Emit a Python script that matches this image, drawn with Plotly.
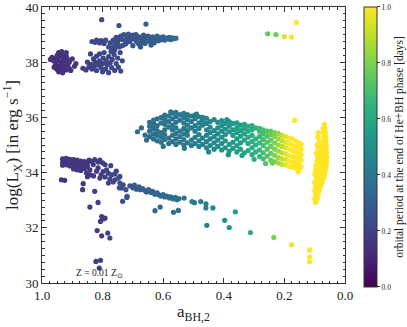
import plotly.graph_objects as go

# ---------------- data ----------------
# top-left blob near a=0.93, log Lx ~ 38  : (a, logLx, period)
cluster_a = [(0.967,38.18,0.14),(0.962,38.05,0.14),(0.958,38.12,0.14),(0.95,38.25,0.14),(0.945,38.35,0.15),
             (0.935,38.38,0.15),(0.928,38.3,0.15),(0.94,38.2,0.14),(0.93,38.15,0.15),(0.92,38.22,0.15),
             (0.948,38.05,0.14),(0.938,38.0,0.14),(0.925,38.05,0.15),(0.915,38.1,0.15),(0.955,37.9,0.13),
             (0.945,37.85,0.13),(0.935,37.9,0.14),(0.925,37.88,0.14),(0.915,37.9,0.15),(0.952,37.75,0.13),
             (0.94,37.72,0.13),(0.93,37.75,0.14),(0.92,37.72,0.14),(0.945,37.65,0.13),(0.932,37.62,0.13),
             (0.91,37.78,0.15),(0.905,37.7,0.15),(0.9,38.12,0.16),(0.893,37.85,0.16),(0.888,37.95,0.16),
             (0.96,37.82,0.13),(0.92,38.35,0.15),(0.942,38.28,0.14),(0.952,38.15,0.14),(0.91,38.0,0.15),
             (0.972,38.1,0.14)]

# lower blob of the upper group
cluster_b = [(0.865,37.78,0.19),(0.855,37.72,0.19),(0.845,37.82,0.2),(0.84,37.92,0.2),(0.835,37.75,0.2),
             (0.828,37.85,0.2),(0.825,38.0,0.2),(0.82,37.7,0.2),(0.815,37.9,0.21),(0.81,38.05,0.21),
             (0.805,37.8,0.21),(0.8,37.95,0.21),(0.798,38.15,0.21),(0.79,37.75,0.21),(0.788,38.05,0.22),
             (0.785,37.9,0.22),(0.78,38.2,0.22),(0.775,37.98,0.22),(0.77,37.8,0.22),(0.768,38.1,0.22),
             (0.762,38.28,0.22),(0.76,37.7,0.22),(0.755,37.95,0.23),(0.75,38.15,0.23),(0.748,37.82,0.23),
             (0.742,38.35,0.23),(0.74,37.68,0.23),(0.735,38.05,0.23),(0.83,38.12,0.2),(0.82,38.22,0.21),
             (0.85,38.0,0.2),(0.76,38.45,0.23),(0.77,38.52,0.23),(0.755,38.6,0.23),(0.81,38.3,0.21),
             (0.795,38.35,0.21),(0.8,37.65,0.21),(0.78,37.62,0.22),(0.84,38.3,0.2),(0.772,38.38,0.22)]

# upper arc of the upper group
cluster_b_arc = [(0.835,38.75,0.21),(0.825,38.72,0.21),(0.82,38.8,0.22),(0.81,38.7,0.22),(0.805,38.78,0.22),
                 (0.795,38.68,0.22),(0.79,38.8,0.23),(0.78,38.55,0.23),(0.775,38.7,0.23),(0.765,38.8,0.24),
                 (0.76,38.62,0.24),(0.755,38.9,0.24),(0.75,38.75,0.24),(0.745,38.55,0.24),(0.74,38.95,0.25),
                 (0.735,38.82,0.25),(0.73,39.0,0.25),(0.725,38.65,0.25),(0.72,38.88,0.25),(0.715,39.02,0.26),
                 (0.71,38.75,0.26),(0.705,38.95,0.26),(0.7,38.6,0.26),(0.695,38.85,0.27),(0.69,39.0,0.27),
                 (0.685,38.72,0.27),(0.68,38.92,0.27),(0.675,38.55,0.28),(0.67,38.82,0.28),(0.665,38.98,0.28),
                 (0.66,38.68,0.28),(0.655,38.88,0.29),(0.65,38.95,0.29),(0.645,38.75,0.29),(0.64,38.85,0.29),
                 (0.635,38.92,0.3),(0.63,38.7,0.3),(0.625,38.85,0.3),(0.62,38.95,0.3),(0.615,38.78,0.31),
                 (0.61,38.88,0.31),(0.605,38.82,0.31),(0.6,38.92,0.32),(0.595,38.8,0.32),(0.59,38.87,0.32),
                 (0.585,38.84,0.33),(0.58,38.9,0.33),(0.575,38.82,0.33),(0.57,38.88,0.34),(0.565,38.85,0.34),
                 (0.558,38.87,0.35),(0.745,38.88,0.24),(0.725,38.78,0.25),(0.705,38.85,0.26),(0.685,38.85,0.27),
                 (0.665,38.78,0.28),(0.645,38.9,0.29),(0.625,38.78,0.3),(0.605,38.9,0.31),(0.72,38.72,0.25),
                 (0.7,38.98,0.26),(0.66,38.9,0.28),(0.64,38.62,0.29),(0.68,38.65,0.27),(0.735,38.6,0.25),
                 (0.76,38.72,0.24),(0.71,38.88,0.26),(0.69,38.78,0.27),(0.65,38.82,0.29),(0.67,38.7,0.28),
                 (0.75,38.65,0.24),(0.803,39.54,0.21),(0.746,39.33,0.24),(0.657,39.38,0.29)]

# few systems at the top right
cluster_g = [(0.255,39.03,0.75),(0.228,39.0,0.78),(0.2,38.93,0.95),(0.177,38.91,0.98),(0.16,39.44,1.0)]

# middle band: column positions, colour of each column, and the logLx values in each column
band_col_x = [0.645,0.632,0.62,0.607,0.595,0.582,0.57,0.558,0.545,0.532,0.52,0.507,0.495,0.482,
              0.47,0.457,0.445,0.432,0.42,0.407,0.395,0.382,0.37,0.357,0.345,0.332,0.32,0.307,
              0.295,0.282,0.27,0.257,0.245,0.232,0.22,0.208,0.196,0.185,0.174,0.163,0.152,0.145]
band_col_c = [0.36,0.365,0.37,0.375,0.38,0.385,0.39,0.395,0.40,0.405,0.41,0.415,0.42,0.43,
              0.44,0.45,0.46,0.47,0.48,0.50,0.51,0.52,0.53,0.55,0.56,0.58,0.60,0.62,
              0.64,0.67,0.70,0.72,0.76,0.80,0.85,0.90,0.95,1.0,1.0,1.0,1.0,1.0]
band_col_y = [
    [35.3,35.5,35.68,35.82],
    [35.22,35.4,35.6,35.78,35.9],
    [35.15,35.35,35.52,35.7,35.95],
    [35.1,35.28,35.45,35.8,36.0],
    [35.2,35.38,35.55,35.75,35.92,36.08],
    [35.05,35.25,35.65,35.85,36.05],
    [35.12,35.35,35.55,35.72,35.95,36.15],
    [35.02,35.22,35.42,35.62,35.82,36.02,36.18],
    [35.1,35.3,35.5,35.9,36.1],
    [35.0,35.2,35.4,35.6,35.8,36.0,36.15],
    [35.08,35.35,35.52,35.72,35.92,36.1],
    [34.98,35.18,35.62,35.85,36.05],
    [35.05,35.28,35.5,35.7,35.95,36.08],
    [34.95,35.15,35.38,35.6,35.8,36.02],
    [35.02,35.25,35.72,35.9,36.0],
    [34.9,35.12,35.35,35.55,35.78,35.97],
    [34.98,35.22,35.45,35.65,35.85],
    [34.85,35.08,35.3,35.52,35.92],
    [34.95,35.18,35.4,35.62,35.82],
    [34.82,35.05,35.28,35.5,35.7,35.88],
    [34.9,35.15,35.38,35.58,35.78],
    [34.78,35.02,35.48,35.68,35.85],
    [34.88,35.1,35.35,35.55,35.78],
    [34.75,34.98,35.22,35.45,35.62,35.8],
    [34.85,35.08,35.32,35.52,35.72],
    [34.72,35.18,35.4,35.6,35.75],
    [34.8,35.05,35.28,35.5,35.68],
    [34.65,34.9,35.12,35.35,35.55,35.7],
    [34.75,35.0,35.22,35.62],
    [34.58,34.82,35.08,35.3,35.5,35.6],
    [34.5,34.72,34.98,35.2,35.4,35.55],
    [34.6,34.85,35.1,35.32,35.5],
    [34.45,34.7,34.95,35.18,35.38,35.5],
    [34.4,34.62,34.85,35.08,35.3,35.45],
    [34.35,34.55,34.78,35.0,35.22,35.42],
    [34.3,34.5,34.72,34.95,35.15,35.35],
    [34.28,34.48,34.68,34.9,35.1,35.3],
    [34.22,34.42,34.62,34.85,35.05,35.25],
    [34.2,34.38,34.58,34.8,35.0,35.22],
    [34.18,34.36,34.55,34.75,34.95,35.15],
    [34.12,34.3,34.5,34.7,34.9,35.08],
    [34.2,34.45,34.65,34.85,35.02],
]
band_extra = [(0.685,35.48,0.34),(0.672,35.62,0.35),(0.66,35.36,0.35),(0.655,35.18,0.35),(0.6,34.95,0.38),
              (0.53,34.88,0.4),(0.45,34.75,0.45),(0.385,34.65,0.52),(0.3,34.48,0.63),(0.262,34.33,0.72),
              (0.155,34.03,1.0),(0.166,35.9,1.0),(0.575,36.2,0.39),(0.49,36.12,0.42),(0.39,35.92,0.5),
              (0.34,34.62,0.56),(0.24,34.35,0.78)]

# narrow vertical strip at a ~ 0.06-0.10 (all at the top of the colour scale)
strip_row_y = [35.75,35.6,35.45,35.3,35.15,35.0,34.85,34.7,34.55,34.4,34.25,34.1,33.95,33.8,33.65,
               33.5,33.35,33.2,33.05,32.92]
strip_row_x = [[0.068],[0.066,0.072],[0.065,0.071,0.088],[0.064,0.07,0.089],[0.063,0.07,0.085],
               [0.062,0.069,0.078,0.092],[0.061,0.068,0.076,0.088],[0.06,0.067,0.075,0.084,0.095],
               [0.06,0.067,0.074,0.082,0.09],[0.061,0.068,0.076,0.084,0.093],[0.062,0.07,0.078,0.086,0.096],
               [0.064,0.072,0.08,0.088,0.097],[0.067,0.075,0.083,0.092,0.1],[0.07,0.078,0.086,0.095],
               [0.075,0.083,0.092,0.1],[0.08,0.088,0.097],[0.085,0.093,0.1],[0.088,0.097],[0.092,0.1],[0.097]]
strip_c = 1.0

# lower-left dense group
cluster_e_col_x = [0.932,0.92,0.908,0.896,0.884,0.872,0.86,0.85]
cluster_e_col_y = [[34.5,34.38,34.27],[34.52,34.4,34.28],[34.48,34.36,34.24],[34.47,34.35,34.23,34.13],
                   [34.45,34.33,34.21,34.1],[34.42,34.3,34.18,34.08],[34.4,34.28,34.15],[34.35,34.22]]
cluster_e_c = 0.15
cluster_e_ragged = [(0.845,34.45,0.17),(0.836,34.41,0.17),(0.826,34.47,0.18),(0.815,34.38,0.18),(0.809,34.45,0.18),
                    (0.8,34.35,0.19),(0.792,34.29,0.19),(0.773,34.25,0.2),(0.787,34.1,0.2),(0.781,33.98,0.2),
                    (0.77,33.92,0.21),(0.792,33.84,0.2),(0.776,33.77,0.21),(0.765,33.66,0.22),(0.781,33.62,0.21),
                    (0.743,33.62,0.24),(0.732,33.56,0.25),(0.737,33.44,0.25),(0.723,33.38,0.26),(0.719,33.14,0.26),
                    (0.734,32.96,0.25),(0.831,34.29,0.18),(0.815,34.17,0.18),(0.842,34.1,0.17),(0.853,33.99,0.17),
                    (0.798,34.04,0.19),(0.809,33.8,0.19),(0.748,33.8,0.23),(0.743,33.86,0.23),(0.759,33.74,0.22),
                    (0.82,34.05,0.18),(0.84,33.92,0.17),(0.85,33.85,0.17),(0.83,33.88,0.18),(0.805,33.92,0.19),
                    (0.76,33.95,0.22),(0.755,34.05,0.22),(0.745,33.45,0.24),(0.72,33.1,0.26)]
# scattered systems below the lower-left group
cluster_f = [(0.936,33.74,0.15),(0.925,33.72,0.15),(0.864,33.6,0.17),(0.866,33.38,0.17),(0.826,33.32,0.18),
             (0.815,32.92,0.18),(0.842,32.75,0.17),(0.803,32.41,0.19),(0.798,32.32,0.19),(0.792,32.35,0.19),
             (0.807,32.23,0.19),(0.818,31.9,0.18),(0.803,31.71,0.19),(0.783,31.81,0.2),(0.776,31.63,0.2),
             (0.822,30.78,0.18),(0.807,30.82,0.19),(0.811,30.54,0.19)]
# descending tail of the lower group
cluster_tail = [(0.71,33.52,0.27),(0.70,33.45,0.28),(0.695,33.55,0.28),(0.688,33.4,0.28),(0.68,33.48,0.29),
                (0.675,33.38,0.29),(0.668,33.42,0.3),(0.66,33.35,0.3),(0.655,33.3,0.31),(0.648,33.38,0.31),
                (0.64,33.28,0.32),(0.635,33.32,0.32),(0.628,33.22,0.33),(0.62,33.27,0.33),(0.615,33.2,0.34),
                (0.608,33.15,0.34),(0.6,33.2,0.35),(0.595,33.12,0.35),(0.588,33.15,0.36),(0.58,33.08,0.36),
                (0.575,33.12,0.36),(0.568,33.05,0.37),(0.56,33.1,0.37),(0.555,33.02,0.37),(0.548,33.06,0.38),
                (0.531,33.08,0.39),(0.505,32.95,0.41),(0.497,32.91,0.41),(0.476,32.95,0.43),(0.459,32.87,0.45),
                (0.459,32.72,0.45),(0.436,32.72,0.47),(0.456,32.09,0.45),(0.397,32.27,0.5),(0.382,32.01,0.52),
                (0.362,32.58,0.54),(0.312,31.83,0.62),(0.235,31.65,0.8),(0.176,31.39,0.97),(0.117,31.2,1.0),
                (0.117,30.94,1.0),(0.117,30.77,1.0),(0.61,32.75,0.34),(0.627,32.62,0.33),(0.566,32.56,0.37),
                (0.55,32.63,0.38)]

x_tick_vals = [1.0, 0.8, 0.6, 0.4, 0.2, 0.0]
y_tick_vals = [30, 32, 34, 36, 38, 40]
cbar_tick_vals = [0.0, 0.2, 0.4, 0.6, 0.8, 1.0]
annotation_text = "Z = 0.01 Z<sub>⊙</sub>"
cbar_title = "orbital period at the end of He+BH phase [days]"

# ---------------- assemble ----------------
xs, ys, cs = [], [], []

def add_tuples(pts):
    for px, py, pc in pts:
        xs.append(px); ys.append(py); cs.append(pc)

add_tuples(cluster_a)
add_tuples(cluster_b)
add_tuples(cluster_b_arc)
add_tuples(cluster_e_ragged)
for cx, col in zip(cluster_e_col_x, cluster_e_col_y):
    for vy in col:
        xs.append(cx); ys.append(vy); cs.append(cluster_e_c)
add_tuples(cluster_f)
add_tuples(cluster_tail)
for cx, cc, col in zip(band_col_x, band_col_c, band_col_y):
    for vy in col:
        xs.append(cx); ys.append(vy); cs.append(cc)
add_tuples(band_extra)
for ry, row in zip(strip_row_y, strip_row_x):
    for rx in row:
        xs.append(rx); ys.append(ry); cs.append(strip_c)
add_tuples(cluster_g)

SERIF = "Liberation Serif, Times New Roman, serif"

fig = go.Figure(go.Scatter(
    x=xs, y=ys, mode="markers",
    marker=dict(size=5.2, color=cs, colorscale="Viridis", cmin=0, cmax=1,
                line=dict(width=0),
                colorbar=dict(
                    thickness=13, len=1.014, lenmode="fraction", y=0.493, yanchor="middle", ypad=0,
                    x=1.062, xanchor="left", xpad=0,
                    outlinewidth=1, outlinecolor="#333",
                    tickvals=cbar_tick_vals, tickformat=".1f", ticks="outside", ticklen=3,
                    tickcolor="#333",
                    tickfont=dict(family=SERIF, size=7.5, color="#222"),
                    title=dict(text=cbar_title, side="right",
                               font=dict(family=SERIF, size=11.5, color="#222")),
                )),
    hoverinfo="skip", showlegend=False,
))

axis_common = dict(showgrid=False, zeroline=False, showline=True, linecolor="#333", linewidth=1,
                   mirror="allticks", ticks="inside", ticklen=5, tickwidth=1, tickcolor="#333",
                   tickfont=dict(family=SERIF, size=13, color="#222"), automargin=False,
                   ticklabeloverflow="allow")

fig.update_xaxes(range=[1.0, 0.0], tickvals=x_tick_vals, tickformat=".1f",
                 minor=dict(dtick=0.025, ticks="inside", ticklen=2.5, tickcolor="#333", showgrid=False),
                 title=dict(text="a<sub>BH,2</sub>", font=dict(family=SERIF, size=17, color="#222"), standoff=3),
                 **axis_common)
fig.update_yaxes(range=[30, 40], tickvals=y_tick_vals,
                 minor=dict(dtick=0.25, ticks="inside", ticklen=2.5, tickcolor="#333", showgrid=False),
                 title=dict(text="log(L<sub>X</sub>) [in erg s<sup>−1</sup>]",
                            font=dict(family=SERIF, size=17, color="#222"), standoff=4),
                 **axis_common)

fig.add_annotation(x=0.81, y=30.35, xref="x", yref="y", text=annotation_text, showarrow=False,
                   font=dict(family=SERIF, size=9.5, color="#222"))

fig.update_layout(width=407, height=327, margin=dict(l=42, r=62, t=7, b=44, autoexpand=False),
                  plot_bgcolor="white", paper_bgcolor="white")

# the page's default body margin would offset the figure by 8 px; remove it
fig.write_html("out.html", config={"displayModeBar": False},
               post_script="document.body.style.margin='0';")
